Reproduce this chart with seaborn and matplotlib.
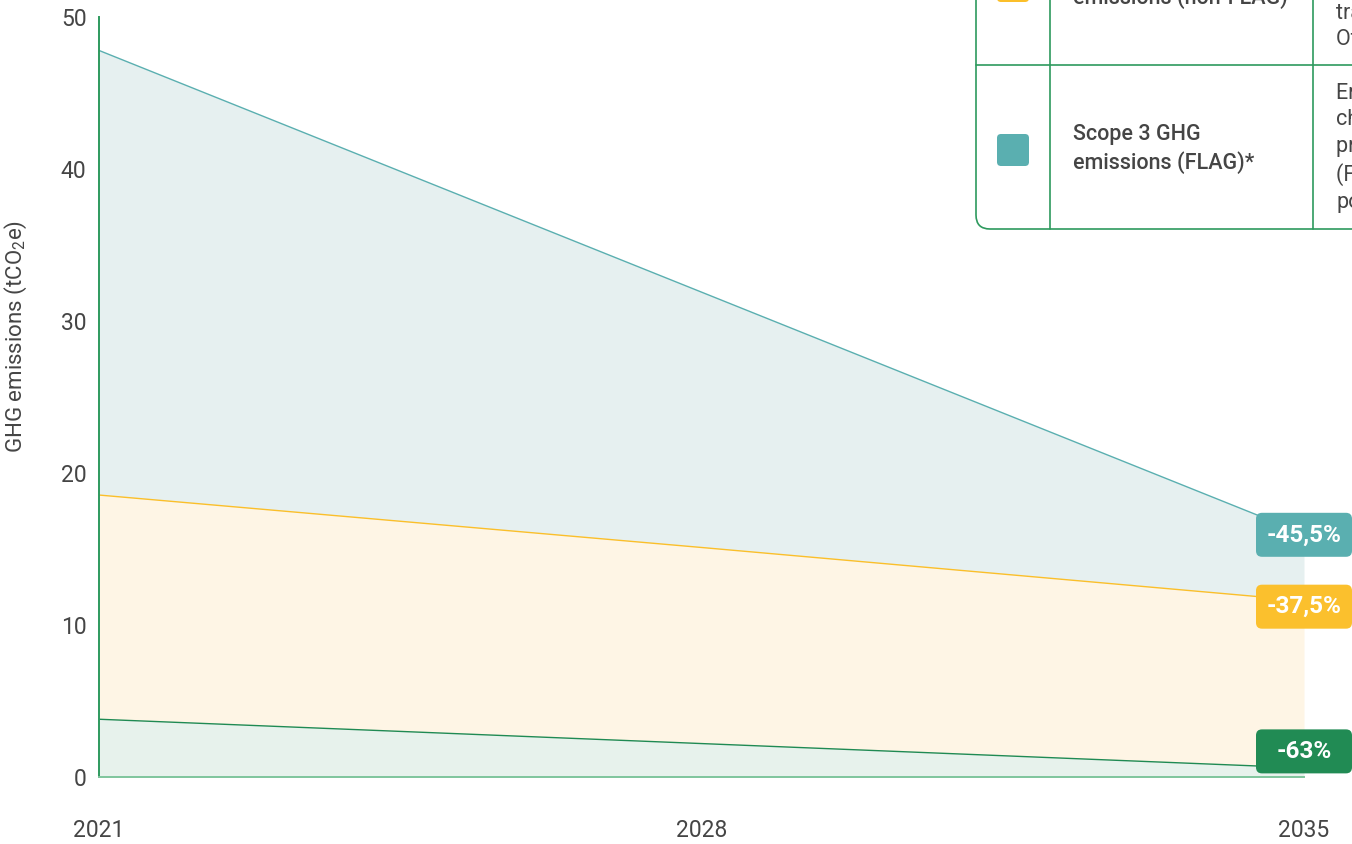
import numpy as np
import pandas as pd
import matplotlib
matplotlib.use("Agg")
import matplotlib.pyplot as plt
from matplotlib.patches import FancyBboxPatch
from matplotlib.lines import Line2D
from matplotlib.transforms import IdentityTransform
import seaborn as sns

# ---------------- data ----------------
years = [2021, 2028, 2035]
flag_top = [47.8, 31.9, 16.0]        # Scope 3 FLAG (upper line)
nonflag = [18.55, 15.1, 11.6]        # Scope 3 non-FLAG
scope12 = [3.8, 2.2, 0.6]            # lowest line
labels_pct = ["-45,5%", "-37,5%", "-63%"]
yticks = [0, 10, 20, 30, 40, 50]
xticks = [2021, 2028, 2035]

# ---------------- style ----------------
sns.set_theme(style="white")
plt.rcParams["font.family"] = ["Roboto", "DejaVu Sans"]
plt.rcParams["mathtext.fontset"] = "custom"
plt.rcParams["mathtext.rm"] = "Roboto"

TEAL = "#5aafb0"
TEAL_F = "#e6f0f0"
YEL = "#fbbf2a"
YEL_F = "#fef5e5"
GRN = "#1f8a53"
GRN_F = "#e7f2ec"
TXT = "#454545"
BORDER = "#2e9a5e"

W, H = 1352, 844
fig = plt.figure(figsize=(W / 100, H / 100), dpi=100)
ax = fig.add_axes([99 / W, 1 - 777 / H, (1304 - 99) / W, (777 - 17) / H])

df = pd.DataFrame({
    "year": years * 3,
    "value": flag_top + nonflag + scope12,
    "series": ["flag"] * 3 + ["nonflag"] * 3 + ["s12"] * 3,
})

ax.fill_between(years, nonflag, flag_top, color=TEAL_F, lw=0, zorder=1)
ax.fill_between(years, scope12, nonflag, color=YEL_F, lw=0, zorder=1)
ax.fill_between(years, 0, scope12, color=GRN_F, lw=0, zorder=1)

sns.lineplot(data=df, x="year", y="value", hue="series",
             palette={"flag": TEAL, "nonflag": YEL, "s12": GRN},
             linewidth=1.0, legend=False, ax=ax, zorder=2)

ax.set_xlim(2021, 2035)
ax.set_ylim(0, 50)
ax.set_xticks(xticks)
ax.set_yticks(yticks)
ax.set_xticklabels([str(t) for t in xticks])
ax.tick_params(axis="x", length=0, pad=30, labelsize=16.5, labelcolor=TXT)
ax.tick_params(axis="y", length=0, pad=9, labelsize=16.5, labelcolor=TXT)
ax.set_xlabel("")
ax.set_ylabel("GHG emissions (tCO$_\\mathregular{2}$e)", fontsize=16, color=TXT)
ax.yaxis.set_label_coords(-0.058, 0.58)
for s in ["top", "right"]:
    ax.spines[s].set_visible(False)
ax.spines["left"].set_color(BORDER)
ax.spines["left"].set_linewidth(1.4)
ax.spines["bottom"].set_color("#7fc59c")
ax.spines["bottom"].set_linewidth(1.4)
ax.set_facecolor("white")

ident = IdentityTransform()

def top_px(y):
    return H - y

# ---------------- end labels ----------------
ends = [flag_top[-1], nonflag[-1], scope12[-1]]
cols = [TEAL, "#fbc02d", "#218b54"]
offsets = [-1, -6, 16.5]   # pixels (positive = up)
for v, lab, c, off in zip(ends, labels_pct, cols, offsets):
    xd, yd = ax.transData.transform((xticks[-1], v))
    yc = yd + off
    bw, bh = 96, 44
    p = FancyBboxPatch((xd - bw / 2, yc - bh / 2), bw, bh,
                       boxstyle="round,pad=0,rounding_size=6",
                       fc=c, ec="none", transform=ident, zorder=5)
    fig.add_artist(p)
    fig.text(xd, yc, lab, transform=ident, ha="center", va="center",
             color="white", fontsize=17.5, fontweight="bold", zorder=6)

# ---------------- legend table (clipped at the figure edge) ----------------
box = FancyBboxPatch((976, top_px(229)), 600, 500,
                     boxstyle="round,pad=0,rounding_size=14",
                     fc="white", ec=BORDER, lw=1.2, transform=ident, zorder=3)
fig.add_artist(box)
for xv in [1050, 1313]:
    fig.add_artist(Line2D([xv, xv], [top_px(229), top_px(-20)], color=BORDER,
                          lw=1.2, transform=ident, zorder=4))
fig.add_artist(Line2D([976, 1360], [top_px(65), top_px(65)], color=BORDER,
                      lw=1.2, transform=ident, zorder=4))

fig.add_artist(FancyBboxPatch((997, top_px(166)), 32, 32,
                              boxstyle="round,pad=0,rounding_size=4",
                              fc=TEAL, ec="none", transform=ident, zorder=4))
fig.add_artist(FancyBboxPatch((997, top_px(2)), 32, 32,
                              boxstyle="round,pad=0,rounding_size=4",
                              fc=YEL, ec="none", transform=ident, zorder=4))

fig.text(1073, top_px(149), "Scope 3 GHG\nemissions (FLAG)*", transform=ident,
         ha="left", va="center", fontsize=15.5, fontweight="medium",
         color=TXT, linespacing=1.3, zorder=6)
fig.text(1073, top_px(-16), "Scope 3 GHG\nemissions (non-FLAG)", transform=ident,
         ha="left", va="center", fontsize=15.5, fontweight="medium",
         color=TXT, linespacing=1.3, zorder=6)
fig.text(1336, top_px(148),
         "Emissions from land-use\nchange, agricultural\nproduction and forestry\n(FLAG) within the\nportfolio",
         transform=ident, ha="left", va="center", fontsize=15.5,
         color=TXT, linespacing=1.3, zorder=6)
fig.text(1336, top_px(1),
         "Emissions from\npurchased goods,\ntransport and\nOther categories",
         transform=ident, ha="left", va="center", fontsize=15.5,
         color=TXT, linespacing=1.3, zorder=6)

fig.savefig("out.png", dpi=100)
